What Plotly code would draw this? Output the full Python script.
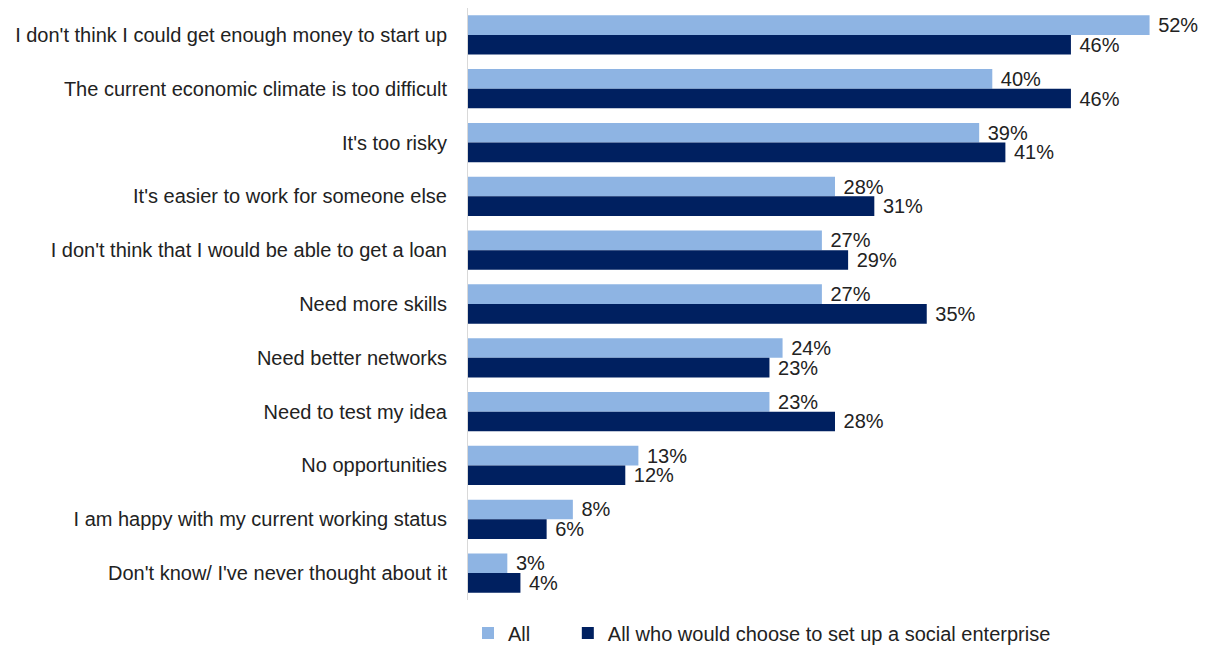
import plotly.graph_objects as go

categories = [
    "I don't think I could get enough money to start up",
    "The current economic climate is too difficult",
    "It's too risky",
    "It's easier to work for someone else",
    "I don't think that I would be able to get a loan",
    "Need more skills",
    "Need better networks",
    "Need to test my idea",
    "No opportunities",
    "I am happy with my current working status",
    "Don't know/ I've never thought about it",
]
all_values = [52, 40, 39, 28, 27, 27, 24, 23, 13, 8, 3]
social_values = [46, 46, 41, 31, 29, 35, 23, 28, 12, 6, 4]
series_names = ["All", "All who would choose to set up a social enterprise"]

FONT = "Liberation Sans, Arial"
TXT = "#222222"

fig = go.Figure()
fig.add_trace(go.Bar(
    y=categories, x=all_values, name=series_names[0], orientation="h",
    marker=dict(color="#8EB4E3", line=dict(width=0)),
    texttemplate=" %{x}%", textposition="outside",
    textfont=dict(size=20, color=TXT, family=FONT),
    cliponaxis=False, legend="legend",
))
fig.add_trace(go.Bar(
    y=categories, x=social_values, name=series_names[1], orientation="h",
    marker=dict(color="#002060", line=dict(width=0)),
    texttemplate=" %{x}%", textposition="outside",
    textfont=dict(size=20, color=TXT, family=FONT),
    cliponaxis=False, legend="legend2",
))

legend_common = dict(orientation="h", yref="container", yanchor="top", y=0.051,
                     xanchor="left",
                     font=dict(size=20, color=TXT, family=FONT), itemwidth=30,
                     bgcolor="rgba(0,0,0,0)")
# page body has an 8px default margin, so the figure is 8px smaller than the window
fig.update_layout(
    width=1204, height=638,
    barmode="group", bargap=0.27, bargroupgap=0,
    plot_bgcolor="white", paper_bgcolor="white",
    margin=dict(l=460, r=10, t=0, b=46, autoexpand=False),
    font=dict(family=FONT, size=20, color=TXT),
    showlegend=True,
    uniformtext=dict(minsize=20, mode="show"),
    legend=dict(x=0.0, **legend_common),
    legend2=dict(x=0.136, **legend_common),
)
fig.update_xaxes(range=[0, 56], visible=False, showgrid=False)
fig.update_yaxes(autorange="reversed", showline=True, linecolor="#D9D9D9", linewidth=1,
                 ticks="", showgrid=False, ticklabelstandoff=16,
                 tickfont=dict(size=20, color=TXT, family=FONT))

fig.write_html("out.html")
